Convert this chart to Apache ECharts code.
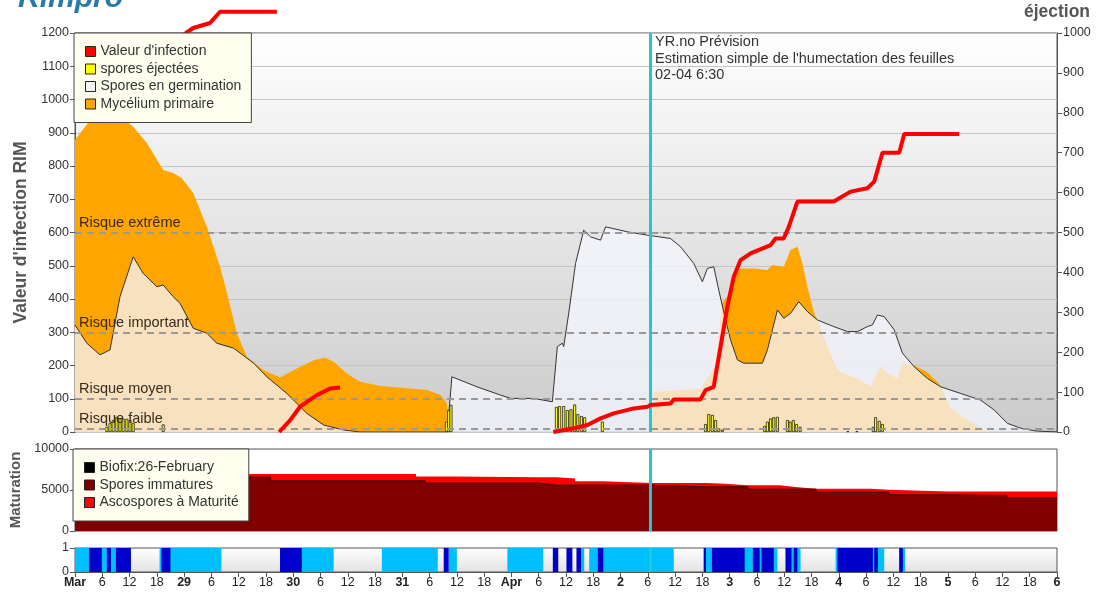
<!DOCTYPE html>
<html>
<head>
<meta charset="utf-8">
<script src="https://cdn.jsdelivr.net/npm/echarts@6/dist/echarts.min.js"></script>
<style>
  html, body { margin: 0; padding: 0; background: #fff; }
  #chart { width: 1097px; height: 596px; }
</style>
</head>
<body>
<div id="chart"></div>
<script>
// x values are hours counted from 28 March 00:00
var dayNames = ['Mar', '29', '30', '31', 'Apr', '2', '3', '4', '5', '6'];
var nowHour = 126.5; // 02-04 6:30

var riskLevels = [600, 300, 100, 10];
var riskNames = ['Risque extrême', 'Risque important', 'Risque moyen', 'Risque faible'];

// Mycélium primaire
var mycelium = [
  [0, 878], [2.9, 930], [6, 958], [9, 960], [11.5, 932], [12.8, 918], [15.8, 869], [19.4, 788],
  [21.6, 779], [23.5, 763], [26, 719], [29, 617], [31.9, 497], [33.4, 420], [35.6, 297],
  [37.8, 226], [41.5, 186], [45.1, 164], [48.8, 191], [52.5, 216], [55, 223], [56.9, 211],
  [59.8, 176], [62.7, 151], [67.2, 138], [73.8, 131], [77.4, 126], [80.4, 111], [81.8, 86],
  [82.6, 12], [83, 0], [126.8, 0], [127.3, 120], [137.6, 130], [140.9, 200], [142.4, 390],
  [143.5, 407], [144.9, 477], [146.4, 492], [149.3, 492], [152.3, 487], [153.4, 502],
  [155.9, 497], [157.4, 547], [158.9, 557], [160, 507], [161.1, 437], [162.6, 357],
  [163.3, 337], [165.5, 257], [167.7, 186], [169.9, 171], [172.1, 161], [175, 136],
  [177.2, 196], [178.7, 177], [180.9, 161], [182, 207], [184.6, 200], [187.5, 180],
  [190.4, 140], [192.4, 76], [196.3, 36], [199.2, 11], [200.7, 0], [216, 0]
];

// Spores en germination
var germination = [
  [0, 322], [2.6, 267], [5.5, 232], [7.7, 247], [9.9, 407], [12.8, 527], [15, 477], [18, 437],
  [19.4, 442], [21.6, 407], [23.1, 387], [26, 312], [29, 297], [31.2, 267], [34.9, 252],
  [39.3, 207], [42.2, 166], [46.6, 116], [51, 56], [54.7, 21], [59.1, 6], [62.7, 0],
  [81.9, 0], [82.9, 166], [88.4, 136], [93.6, 111], [95.8, 101], [100.9, 101], [105, 91],
  [106.1, 257], [107.2, 267], [107.5, 257], [108.6, 357], [110.1, 507], [111.9, 607],
  [113.4, 587], [115.6, 577], [116.7, 617], [121.5, 602], [125.9, 592], [131, 582],
  [133.2, 557], [136.1, 507], [138, 452], [139.1, 492], [140.5, 497], [141.6, 427],
  [143.1, 337], [144.2, 277], [145.7, 217], [147.1, 207], [151.2, 207], [152.3, 247],
  [154.5, 367], [155.9, 342], [157.4, 357], [159.2, 392], [161.1, 362], [163.3, 337],
  [166.9, 317], [169.9, 302], [172.1, 302], [174.3, 317], [175.4, 322], [176.5, 352],
  [178, 347], [180.2, 307], [182, 237], [184.6, 196], [187.5, 161], [190.4, 136],
  [194.8, 116], [199.2, 96], [202.2, 66], [205.1, 26], [208.1, 11], [211.4, 3], [216, 0]
];

// Valeur d'infection (null = break between infection periods)
var infection = [
  [0, 944], [5, 985], [12, 1060], [18, 1130], [24.4, 1200], [26, 1215], [29.7, 1230],
  [31.9, 1264], [44.4, 1264], [44.6, null],
  [44.9, 0], [47.3, 35], [49.5, 76], [53.2, 111], [56.1, 131], [58.3, 134], [58.5, null],
  [105.2, 0], [109.7, 11], [112.7, 21], [115.6, 41], [118.5, 56], [122.9, 71], [125.9, 76],
  [126.6, 81], [131, 86], [131.7, 98], [137.6, 98], [138.7, 126], [140.5, 136], [141.1, 186],
  [142, 257], [143.5, 377], [144.9, 467], [146.4, 517], [148.6, 537], [153, 562], [154.1, 582],
  [155.9, 582], [157, 617], [158.9, 693], [166.9, 693], [170.6, 723], [174.3, 733],
  [175.8, 753], [177.6, 840], [181.3, 840], [182.4, 896], [194.5, 896]
];

// spores éjectées (right axis)
var ejected = [
  [7, 13], [7.7, 22], [8.4, 30], [9.2, 38], [9.9, 34], [10.6, 33], [11.4, 33], [12.1, 30], [12.8, 22],
  [19.4, 19],
  [81.7, 26], [82.2, 55], [82.7, 68],
  [105.9, 63], [106.6, 65], [107.5, 65], [108.3, 55], [109.1, 57], [109.9, 69], [110.6, 45],
  [111.4, 40], [112.1, 37], [116, 26],
  [138.7, 20], [139.4, 45], [140.2, 43], [140.9, 30], [141.6, 9], [142.4, 6],
  [151.7, 15], [152.3, 26], [153, 34], [153.7, 37], [154.5, 38],
  [156.7, 30], [157.3, 26], [158, 30], [158.7, 20], [159.5, 13],
  [170, 2], [172, 2],
  [175.6, 13], [176.1, 37], [176.9, 28], [177.6, 20]
];

// Maturation
var matHours =   [0, 43, 75, 77, 83, 102, 106, 110, 116, 127, 139, 143, 148, 155, 159, 163, 175, 179, 192, 205, 216];
var immatures =  [6570, 6120, 6120, 5840, 5840, 5600, 5600, 5600, 5600, 5390, 5390, 5390, 5100, 5100, 5100, 4740, 4740, 4410, 4320, 4040, 4040];
var matures =    [370, 820, 530, 810, 730, 970, 800, 480, 240, 450, 360, 200, 490, 250, 40, 400, 280, 400, 490, 770, 770];

// leaf wetness strip [start, end]
var wetLight = [
  [0, 12.3], [18.6, 32.2], [49.9, 56.9], [67.5, 79.8], [82.2, 84], [95.1, 103], [111.3, 112],
  [113.1, 131.7], [138.3, 154.5], [156.3, 159.6], [167.3, 178], [181.3, 182.6]
];
var wetDark = [
  [3.1, 5.9], [7, 7.9], [9, 12.3], [19, 21], [45.1, 49.9], [81.1, 82.2], [105.1, 106.3],
  [108.1, 109.4], [110.3, 111.3], [115, 116.2], [138.3, 138.8], [140.1, 147.3], [149.1, 150.6],
  [151, 153.7], [156.3, 157.6], [158.1, 158.9], [167.7, 175.5], [175.8, 176.6], [181.3, 182.1]
];

var font = '"Liberation Sans", Arial, sans-serif';

var matImm = [], matTot = [];
for (var i = 0; i < matHours.length; i++) {
  matImm.push([matHours[i], immatures[i]]);
  matTot.push([matHours[i], immatures[i] + matures[i]]);
}

var riskLines = [];
for (var r = 0; r < riskLevels.length; r++) {
  riskLines.push({ yAxis: riskLevels[r], name: riskNames[r] });
}

function plain(v) { return String(v); }

function stripItem(color) {
  return function (params, api) {
    var s = api.coord([api.value(0), 1]);
    var e = api.coord([api.value(1), 0]);
    return {
      type: 'rect',
      shape: { x: s[0], y: s[1], width: e[0] - s[0], height: e[1] - s[1] },
      style: { fill: color }
    };
  };
}

var nowLine = {
  silent: true,
  symbol: 'none',
  label: { show: false },
  lineStyle: { color: '#1fc9cf', width: 3, type: 'solid' },
  data: [{ xAxis: nowHour }]
};

var legendBase = {
  orient: 'vertical',
  z: 20,
  icon: 'rect',
  itemWidth: 10,
  itemHeight: 10,
  itemGap: 2.5,
  padding: [11, 10, 11, 11],
  backgroundColor: '#fffff0',
  borderColor: '#444',
  borderWidth: 1,
  itemStyle: { borderColor: '#222', borderWidth: 1 },
  textStyle: { fontFamily: font, fontSize: 14, color: '#333', lineHeight: 15 }
};

var axisLbl = { fontSize: 12.5, color: '#333', margin: 6, formatter: plain };
var axisLn = { show: true, lineStyle: { color: '#555' } };
var axisTk = { show: true, length: 5, lineStyle: { color: '#555' } };
var nameStyle = { fontSize: 17.5, fontWeight: 'bold', color: '#555' };

var chart = echarts.init(document.getElementById('chart'));

var option = {
  animation: false,
  textStyle: { fontFamily: font },
  grid: [
    {
      left: 75, top: 33, right: 40, height: 399, show: true,
      borderColor: '#555', borderWidth: 1,
      backgroundColor: new echarts.graphic.LinearGradient(0, 0, 0, 1, [
        { offset: 0, color: '#ffffff' }, { offset: 1, color: '#cbcbcb' }
      ])
    },
    { left: 75, top: 449, right: 40, height: 82, show: true, borderColor: '#555', borderWidth: 1, backgroundColor: '#fff' },
    {
      left: 75, top: 548, right: 40, height: 24, show: true, borderColor: '#555', borderWidth: 1,
      backgroundColor: new echarts.graphic.LinearGradient(0, 0, 0, 1, [
        { offset: 0, color: '#ffffff' }, { offset: 1, color: '#e2e2e2' }
      ])
    }
  ],
  legend: [
    Object.assign({}, legendBase, {
      left: 74, top: 33,
      data: [
        { name: "Valeur d'infection", itemStyle: { color: '#ff0000' } },
        { name: 'spores éjectées', itemStyle: { color: '#ffff00' } },
        { name: 'Spores en germination', itemStyle: { color: '#f4f4f8' } },
        { name: 'Mycélium primaire', itemStyle: { color: '#ffa500' } }
      ]
    }),
    Object.assign({}, legendBase, {
      left: 73, top: 449,
      data: [
        { name: 'Biofix:26-February', itemStyle: { color: '#000000' } },
        { name: 'Spores immatures', itemStyle: { color: '#800000' } },
        { name: 'Ascospores à Maturité', itemStyle: { color: '#ff0000' } }
      ]
    })
  ],
  xAxis: [
    { type: 'value', gridIndex: 0, min: 0, max: 216, interval: 6,
      axisLine: { show: false }, axisTick: { show: false }, axisLabel: { show: false }, splitLine: { show: false } },
    { type: 'value', gridIndex: 1, min: 0, max: 216, interval: 6,
      axisLine: { show: false }, axisTick: { show: false }, axisLabel: { show: false }, splitLine: { show: false } },
    { type: 'value', gridIndex: 2, min: 0, max: 216, interval: 6,
      axisLine: axisLn, axisTick: axisTk, splitLine: { show: false },
      axisLabel: {
        fontSize: 12.5, color: '#222', margin: 4,
        formatter: function (v) {
          var h = Math.round(v);
          if (h % 24 === 0) return '{day|' + dayNames[h / 24] + '}';
          return String(h % 24);
        },
        rich: { day: { fontWeight: 'bold', fontSize: 12.5, color: '#222' } }
      }
    }
  ],
  yAxis: [
    { type: 'value', gridIndex: 0, min: 0, max: 1200, interval: 100,
      name: "Valeur d'infection RIM", nameLocation: 'middle', nameGap: 41, nameRotate: 90,
      nameTextStyle: nameStyle,
      axisLine: axisLn, axisTick: axisTk, axisLabel: axisLbl,
      splitLine: { show: true, lineStyle: { color: '#c4c4c4', width: 1 } } },
    { type: 'value', gridIndex: 0, min: 0, max: 1000, interval: 100, position: 'right',
      name: 'éjection', nameLocation: 'end', nameGap: 12,
      nameTextStyle: Object.assign({ align: 'center' }, nameStyle),
      axisLine: axisLn, axisTick: axisTk, axisLabel: axisLbl,
      splitLine: { show: false } },
    { type: 'value', gridIndex: 1, min: 0, max: 10000, interval: 5000,
      name: 'Maturation', nameLocation: 'middle', nameGap: 49, nameRotate: 90,
      nameTextStyle: { fontSize: 15, fontWeight: 'bold', color: '#555' },
      axisLine: axisLn, axisTick: axisTk, axisLabel: axisLbl,
      splitLine: { show: false } },
    { type: 'value', gridIndex: 2, min: 0, max: 1, interval: 1,
      axisLine: axisLn, axisTick: axisTk, axisLabel: axisLbl,
      splitLine: { show: false } }
  ],
  graphic: [
    { type: 'text', left: 18, top: -16, silent: true,
      style: { text: 'Rimpro', font: 'italic bold 30px "Liberation Sans", Arial', fill: '#2a7aa6' } },
    { type: 'text', left: 655, top: 34, silent: true,
      style: {
        text: 'YR.no Prévision\nEstimation simple de l\'humectation des feuilles\n02-04 6:30',
        font: '14.5px "Liberation Sans", Arial', fill: '#333', lineHeight: 16.5
      } }
  ],
  series: [
    {
      name: 'Mycélium primaire', type: 'line', xAxisIndex: 0, yAxisIndex: 0, z: 2,
      data: mycelium, showSymbol: false, silent: true,
      itemStyle: { color: '#ffa500' },
      lineStyle: { width: 0 },
      areaStyle: { color: '#ffa500', opacity: 1 }
    },
    {
      name: 'Spores en germination', type: 'line', xAxisIndex: 0, yAxisIndex: 0, z: 3,
      data: germination, showSymbol: false, silent: true,
      itemStyle: { color: '#f4f4f8' },
      lineStyle: { color: '#333', width: 1 },
      areaStyle: { color: 'rgba(246,246,255,0.75)', opacity: 1 },
      markLine: {
        silent: true, symbol: 'none',
        lineStyle: { color: '#999', width: 2, type: [7, 5] },
        label: { show: true, position: 'insideStartTop', formatter: '{b}', fontSize: 14.5, color: '#3a2a1a', distance: [4, 2] },
        data: riskLines
      }
    },
    {
      name: 'spores éjectées', type: 'bar', xAxisIndex: 0, yAxisIndex: 1, z: 4,
      data: ejected, barWidth: 3, silent: true,
      itemStyle: { color: '#ffff00', borderColor: '#222', borderWidth: 0.8 }
    },
    {
      name: "Valeur d'infection", type: 'line', xAxisIndex: 0, yAxisIndex: 0, z: 5,
      data: infection, showSymbol: false, clip: false, silent: true, connectNulls: false,
      itemStyle: { color: '#ff0000' },
      lineStyle: { color: '#ff0000', width: 4 },
      markLine: nowLine
    },
    {
      name: 'Ascospores à Maturité', type: 'line', xAxisIndex: 1, yAxisIndex: 2,
      data: matTot, step: 'end', showSymbol: false, silent: true,
      itemStyle: { color: '#ff0000' },
      lineStyle: { width: 0 },
      areaStyle: { color: '#ff0000', opacity: 1 }
    },
    {
      name: 'Spores immatures', type: 'line', xAxisIndex: 1, yAxisIndex: 2,
      data: matImm, step: 'end', showSymbol: false, silent: true,
      itemStyle: { color: '#800000' },
      lineStyle: { color: '#3a0000', width: 1 },
      areaStyle: { color: '#800000', opacity: 1 },
      markLine: nowLine
    },
    {
      name: 'Biofix:26-February', type: 'line', xAxisIndex: 1, yAxisIndex: 2,
      data: [], itemStyle: { color: '#000' }
    },
    {
      type: 'custom', xAxisIndex: 2, yAxisIndex: 3, silent: true,
      renderItem: stripItem('#00bfff'), encode: { x: [0, 1] }, data: wetLight
    },
    {
      type: 'custom', xAxisIndex: 2, yAxisIndex: 3, silent: true,
      renderItem: stripItem('#0000cd'), encode: { x: [0, 1] }, data: wetDark
    },
    {
      type: 'line', xAxisIndex: 2, yAxisIndex: 3, data: [], silent: true, z: 5,
      markLine: nowLine
    }
  ]
};

chart.setOption(option);
</script>
</body>
</html>
